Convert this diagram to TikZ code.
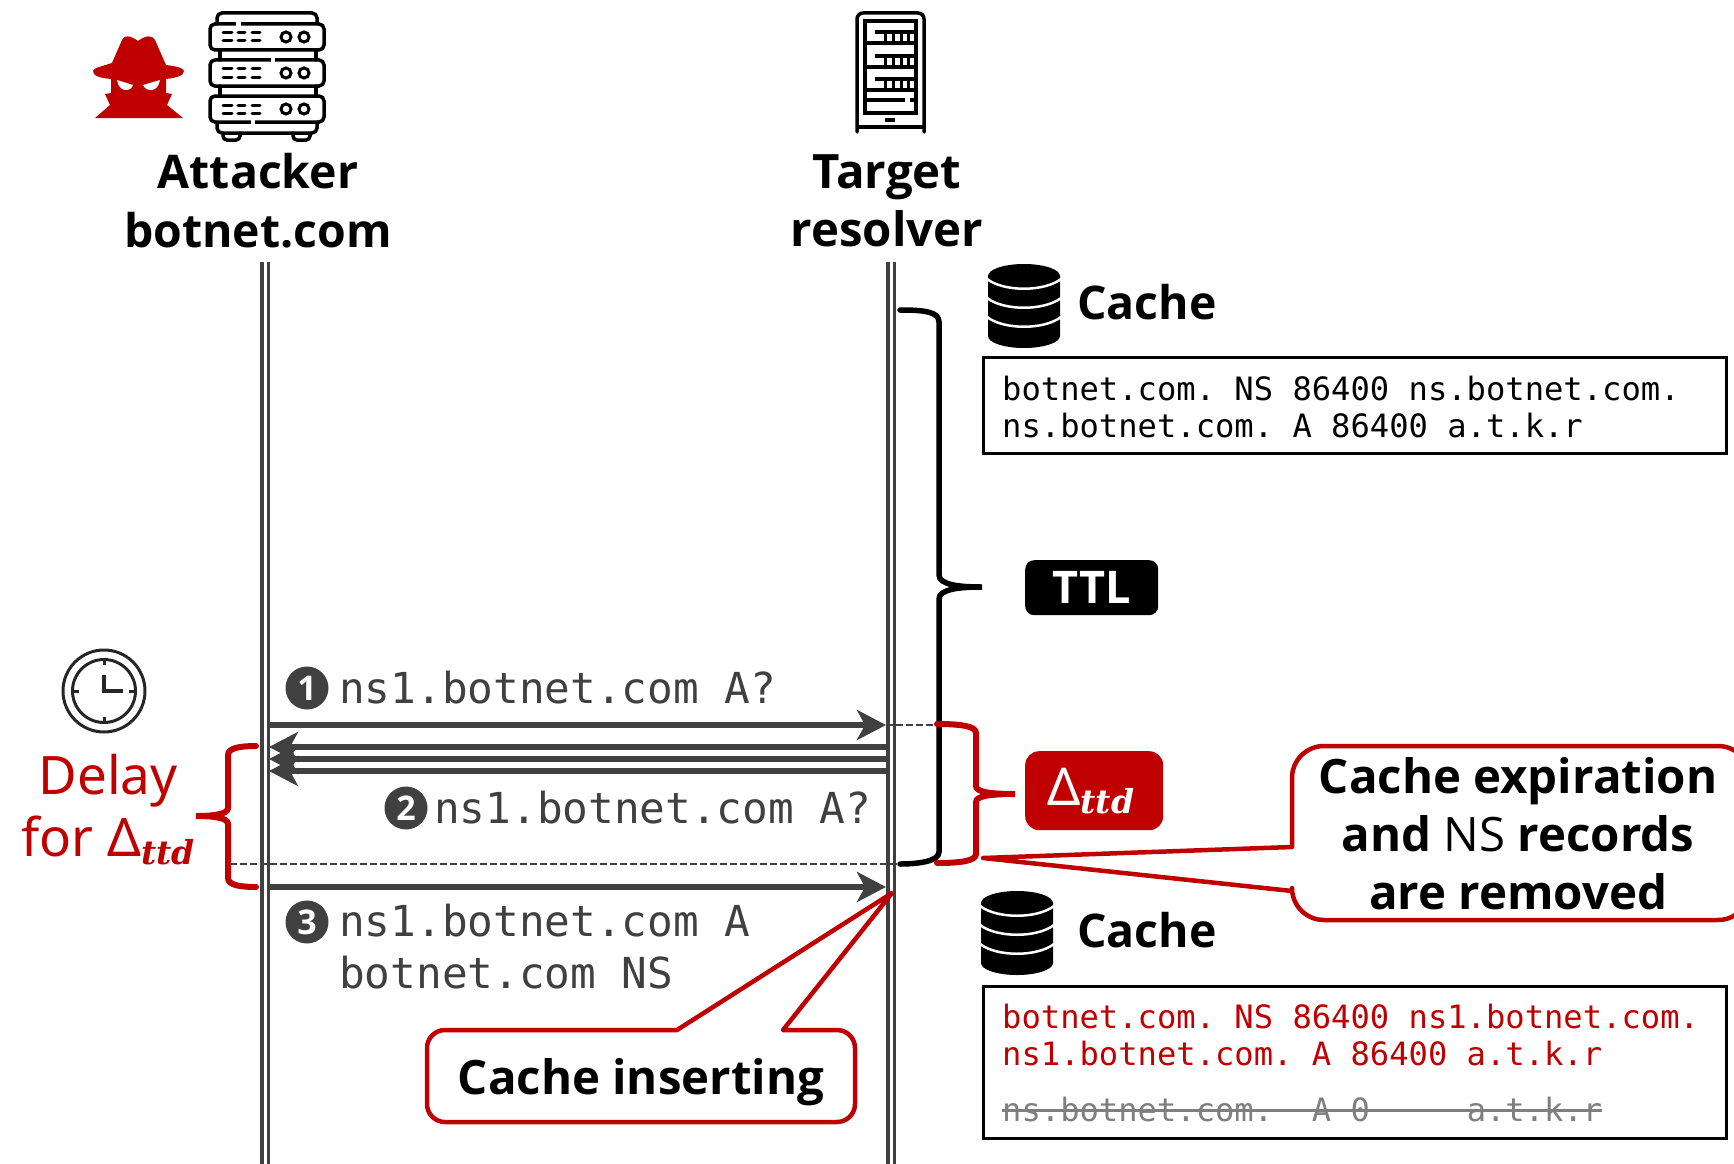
\documentclass[tikz,border=0pt]{standalone}
\usepackage{fontspec}
\setmainfont{Noto Sans}
\setmonofont{DejaVu Sans Mono}
\newfontfamily\headfont{Open Sans}
\newfontfamily\ttdfont{DejaVu Serif}
\usetikzlibrary{arrows.meta}
\definecolor{alertred}{HTML}{C00000}
\definecolor{msggray}{HTML}{404040}
\definecolor{gonegray}{HTML}{7F7F7F}
\newcommand{\dttd}{\char"0394\raisebox{-8pt}{\fontsize{33}{33}\ttdfont\bfseries\itshape ttd}}
\tikzset{x=1pt, y=-1pt, % one unit is one pixel of the reference
boldtext/.style={font=\fontsize{47.4}{58}\selectfont\headfont\bfseries, align=center, inner sep=0pt},
smallbold/.style={font=\fontsize{46.4}{59}\selectfont\headfont\bfseries},
redtext/.style={font=\fontsize{53}{62}\selectfont, text=alertred, align=center, inner sep=0pt},
msgtext/.style={font=\fontsize{42.7}{52}\selectfont\ttfamily, text=msggray, anchor=west, align=left, inner sep=0pt},
rectext/.style={font=\fontsize{32.15}{37}\selectfont\ttfamily, anchor=west, align=left, inner sep=0pt},
recbox/.style={draw, line width=3pt, anchor=north west, inner sep=0pt, minimum width=743pt},
stepmark/.style={circle, fill=msggray, text=white, font=\fontsize{34}{34}\selectfont\headfont\bfseries, minimum size=43pt, inner sep=0pt},
lifeline/.style={draw=msggray, line width=3.5pt, double=white, double distance=3pt},
msg/.style={draw=msggray, line width=5.5pt, -{Stealth[length=29pt,width=30pt,inset=8pt]}},
hint/.style={draw=msggray, line width=2.5pt, dash pattern=on 7pt off 3pt},
bracket/.style={line width=5.5pt, line cap=round},
redbracket/.style={bracket, alertred, line width=6pt},
balloon/.style={draw=alertred, fill=white, line width=4.5pt, line join=round},
tag/.style={rounded corners=9pt, text=white, inner sep=0pt, anchor=north west},
iconline/.style={draw, line width=3.5pt, line cap=round},
dbicon/.pic={
    \fill (-36,12) arc[start angle=180, end angle=360, x radius=36, y radius=12]
        -- (36,72) arc[start angle=0, end angle=180, x radius=36, y radius=12] -- cycle;
    \foreach \sy in {15,34,53} {
        \draw[white, line width=2.5pt] (-37,\sy) .. controls (-20,\sy+13) and (20,\sy+13) .. (37,\sy);
    }
}}

\begin{document}
\begin{tikzpicture}
    \useasboundingbox (0,0) rectangle (1734,1164);
    \clip (0,0) rectangle (1734,1164);

    % spy
    \fill[alertred] (112,63) -- (122,40) .. controls (124,35) and (130,35) .. (138,41)
        .. controls (146,35) and (152,35) .. (155,40) -- (166,65)
        .. controls (175,66) and (184,68) .. (184,71) .. controls (184,76) and (175,78) .. (166,79)
        -- (166,93) -- (172,94) -- (167,105) -- (183,118) -- (95,118) -- (110,105) -- (105,94) -- (111,93) -- (111,79)
        .. controls (100,78) and (93,76) .. (93,71) .. controls (93,68) and (103,66) .. (112,63) -- cycle;
    \fill[white] (117,80) -- (133,85) .. controls (131,92) and (119,93) .. (117,80) -- cycle;
    \fill[white] (160,80) -- (143,85) .. controls (146,92) and (158,93) .. (160,80) -- cycle;

    % attacker server
    \foreach \ry in {24,60,96} {
        \draw[iconline, rounded corners=5pt] (210,\ry) rectangle (324,\ry+26);
        \draw[iconline, line width=3pt] (223,\ry+9) -- (232,\ry+9) (238,\ry+9) -- (245,\ry+9) (252,\ry+9) -- (260,\ry+9);
        \draw[iconline, line width=3pt] (223,\ry+17) -- (232,\ry+17) (238,\ry+17) -- (245,\ry+17) (252,\ry+17) -- (260,\ry+17);
        \draw[line width=3pt] (286,\ry+13) circle[radius=5] (304,\ry+13) circle[radius=5];
    }
    \draw[iconline, rounded corners=5pt] (217,24) -- (217,13) -- (317,13) -- (317,24);
    \draw[iconline, rounded corners=5pt] (217,122) -- (217,133) -- (317,133) -- (317,122);
    \draw[iconline] (220,50) -- (220,60) (316,50) -- (316,60) (220,86) -- (220,96) (316,86) -- (316,96);
    \draw[iconline, rounded corners=4pt] (223,133) -- (223,140) -- (240,140) -- (240,133);
    \draw[iconline, rounded corners=4pt] (293,133) -- (293,140) -- (310,140) -- (310,133);
    \draw[white, line width=5pt] (236,24) -- (241,24) (271,60) -- (275,60) (251,122) -- (255,122);

    % target server
    \draw[iconline, rounded corners=6pt] (857,132) -- (857,13) -- (924,13) -- (924,132);
    \draw[line width=3.5pt] (857,127) -- (924,127);
    \draw[line width=3.5pt] (865,21) rectangle (916,113);
    \foreach \ly in {32,56,79} {
        \draw[line width=3.5pt] (875,\ly) -- (916,\ly);
        \draw[line width=3.5pt] (865,\ly+11) -- (916,\ly+11);
        \foreach \lx in {885,893,901,908} {
            \draw[line width=3pt] (\lx,\ly) -- (\lx,\ly+11);
        }
    }
    \draw[line width=3.5pt] (865,100) -- (905,100) (910,100) -- (916,100);
    \draw[line width=3.5pt] (885,120) -- (895,120);

    \node[boldtext, smallbold] (attacker) at (258,201) {Attacker\\botnet.com};
    \node[boldtext] (resolver) at (887,201) {Target\\resolver};

    % lifelines
    \coordinate (atktop) at (265,262);
    \coordinate (atkend) at (265,1164);
    \coordinate (restop) at (891,262);
    \coordinate (resend) at (891,1164);
    \draw[lifeline] (atktop) -- (atkend);
    \draw[lifeline] (restop) -- (resend);

    % messages
    \coordinate (atk1) at (269,725);
    \coordinate (res1) at (886,725);
    \coordinate (atk2) at (269,747);
    \coordinate (res2) at (886,747);
    \coordinate (atk3) at (269,759);
    \coordinate (res3) at (886,759);
    \coordinate (atk4) at (269,771);
    \coordinate (res4) at (886,771);
    \coordinate (atk5) at (269,887);
    \coordinate (res5) at (886,887);
    \draw[msg] (atk1) -- (res1);
    \draw[msg] (res2) -- (atk2);
    \draw[msg] (res3) -- (atk3);
    \draw[msg] (res4) -- (atk4);
    \draw[msg] (atk5) -- (res5);

    \coordinate (ttdtop) at (937,725);
    \coordinate (ttdleft) at (230,864);
    \coordinate (ttdright) at (916,864);
    \draw[hint] (res1) -- (ttdtop);
    \draw[hint] (ttdleft) -- (ttdright);

    \node[stepmark] (one) at (307,688) {1};
    \node[msgtext] (query1) at (339,688) {ns1.botnet.com A?};
    \node[stepmark] (two) at (406,808) {2};
    \node[msgtext] (query2) at (434,808) {ns1.botnet.com A?};
    \node[stepmark] (three) at (307,922) {3};
    \node[msgtext] (reply) at (339,947) {ns1.botnet.com A\\botnet.com NS};

    % braces
    \draw[bracket] (900,310) .. controls (925,310) and (939,312) .. (939,322) -- (939,575)
        .. controls (939,585) and (960,587) .. (982,587)
        .. controls (960,587) and (939,589) .. (939,599) -- (939,852)
        .. controls (939,862) and (915,864) .. (900,864);
    \draw[redbracket] (937,724) .. controls (960,724) and (976,726) .. (976,733) -- (976,786)
        .. controls (976,792) and (990,794) .. (1015,794)
        .. controls (990,794) and (976,796) .. (976,802) -- (976,854)
        .. controls (976,861) and (960,863) .. (937,863);
    \draw[redbracket] (256,746) .. controls (240,746) and (228,748) .. (228,755) -- (228,808)
        .. controls (228,814) and (215,816) .. (196,816)
        .. controls (215,816) and (228,818) .. (228,824) -- (228,878)
        .. controls (228,885) and (240,887) .. (256,887);

    % clock
    \draw[draw=black!85, line width=3pt] (104,691) circle[radius=41] (104,691) circle[radius=31.5];
    \draw[draw=black!85, line width=3pt] (104,660) -- (104,665) (104,717) -- (104,722) (73,691) -- (79,691) (129,691) -- (135,691);
    \draw[draw=black!85, line width=3.5pt] (104,675) -- (104,691) -- (123,691);

    \node[redtext] (delay) at (108,810) {Delay\\for \dttd};

    % caches
    \pic at (1024,264) {dbicon};
    \node[boldtext, smallbold, anchor=west] (cacheold) at (1077,302) {Cache};
    \node[recbox, minimum height=96pt] (boxold) at (982,356) {};
    \node[rectext] (recold) at (1002,407) {botnet.com. NS 86400 ns.botnet.com.\\ns.botnet.com. A 86400 a.t.k.r};

    \pic at (1017,891) {dbicon};
    \node[boldtext, smallbold, anchor=west] (cachenew) at (1077,930) {Cache};
    \node[recbox, minimum height=152pt] (boxnew) at (982,985) {};
    \node[rectext, text=alertred] (recnew) at (1002,1035) {botnet.com. NS 86400 ns1.botnet.com.\\ns1.botnet.com. A 86400 a.t.k.r};
    \node[rectext, text=gonegray] (recgone) at (1002,1110) {ns.botnet.com.~~A~0~~~~~a.t.k.r};
    \draw[gonegray, line width=3pt] (recgone.west) -- (recgone.east);

    % tags
    \node[tag, fill=black, minimum width=133pt, minimum height=55pt, font=\fontsize{45}{45}\selectfont\headfont\bfseries] (ttl) at (1025,560) {TTL};
    \node[tag, fill=alertred, minimum width=138pt, minimum height=79pt, rounded corners=14pt, font=\fontsize{52}{52}\selectfont] (delta) at (1025,751) {\hspace{-7pt}\dttd};

    % balloons
    \coordinate (expirytip) at (983,858);
    \draw[balloon, rounded corners=32pt] (1292,847) -- (1292,746) -- (1750,746) -- (1750,920) -- (1292,920)
        [sharp corners] -- (1292,891) -- (expirytip) -- cycle;
    \node[boldtext] (expiry) at (1518,834) {Cache expiration\\and {\mdseries NS} records\\are removed};

    \coordinate (inserttip) at (892,893);
    \draw[balloon, rounded corners=18pt] (677,1030) -- (427,1030) -- (427,1122) -- (855,1122) -- (855,1030)
        [sharp corners] -- (783,1030) -- (inserttip) -- cycle;
    \node[boldtext] (insert) at (641,1082) {Cache inserting};

\end{tikzpicture}
\end{document}
